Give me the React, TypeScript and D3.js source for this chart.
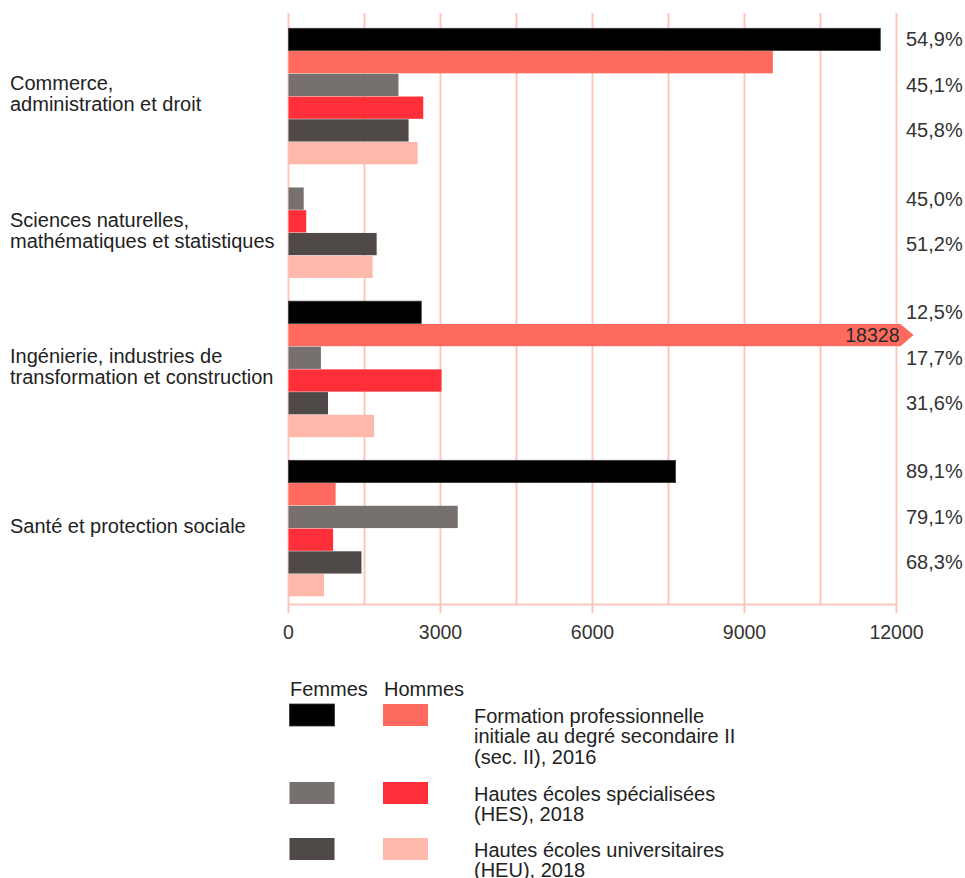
import React from 'react';
import * as d3 from 'd3';

// domaines d'études (libellés sur deux lignes)
const categories = [
  ['Commerce,', 'administration et droit'],
  ['Sciences naturelles,', 'mathématiques et statistiques'],
  ['Ingénierie, industries de', 'transformation et construction'],
  ['Santé et protection sociale'],
];

// effectifs, dans l'ordre des catégories (null = pas de donnée)
const femmesFP = [11680, null, 2620, 7640];
const hommesFP = [9560, null, 18328, 930];
const femmesHES = [2170, 300, 640, 3340];
const hommesHES = [2660, 350, 3020, 880];
const femmesHEU = [2370, 1740, 780, 1440];
const hommesHEU = [2550, 1660, 1690, 700];

// part des femmes
const partFP = ['54,9%', null, '12,5%', '89,1%'];
const partHES = ['45,1%', '45,0%', '17,7%', '79,1%'];
const partHEU = ['45,8%', '51,2%', '31,6%', '68,3%'];

const xTicks = [0, 3000, 6000, 9000, 12000];

const typeLabels = [
  ['Formation professionnelle', 'initiale au degré secondaire II', '(sec. II), 2016'],
  ['Hautes écoles spécialisées', '(HES), 2018'],
  ['Hautes écoles universitaires', '(HEU), 2018'],
];

const colF = ['#000000', '#76716e', '#4e4946'];
const colH = ['#ff6a5f', '#ff2f39', '#ffb9ab'];
const grid = '#ffc7bc';
const font = '"Liberation Sans", Arial, Helvetica, sans-serif';
const fs = 20;

const series = [
  { f: femmesFP, h: hommesFP, part: partFP },
  { f: femmesHES, h: hommesHES, part: partHES },
  { f: femmesHEU, h: hommesHEU, part: partHEU },
];

type Row = { id: string; cat: number; value: number; color: string; part?: string | null };

const App = () => {
  const width = 965;
  const height = 878;

  // build the list of rows: every existing bar, plus a spacer between groups
  const rows: Row[] = [];
  const groups: { cat: number; ids: string[] }[] = [];
  categories.forEach((_, ci) => {
    const ids: string[] = [];
    series.forEach((s, si) => {
      const f = s.f[ci];
      const h = s.h[ci];
      if (f != null) {
        rows.push({ id: `${ci}-${si}-f`, cat: ci, value: f, color: colF[si], part: s.part[ci] });
        ids.push(`${ci}-${si}-f`);
      }
      if (h != null) {
        rows.push({ id: `${ci}-${si}-h`, cat: ci, value: h, color: colH[si] });
        ids.push(`${ci}-${si}-h`);
      }
    });
    groups.push({ cat: ci, ids });
  });

  const domain: string[] = [];
  groups.forEach((g, i) => {
    domain.push(...g.ids);
    if (i < groups.length - 1) domain.push(`gap-${i}`);
  });

  const x = d3.scaleLinear().domain([0, 12000]).range([288.5, 896.5]);
  const y = d3.scaleBand<string>().domain(domain).range([28.3, 596.3]).paddingInner(0.02);

  const xMax = x.domain()[1];
  const gridVals = d3.range(0, xMax + 1, 1500);
  const axisY = 604.5;

  return (
    <svg
      width={width}
      height={height}
      style={{ position: 'absolute', left: 0, top: 0, background: '#fff' }}
      fontFamily={font}
    >
      {/* grille */}
      {gridVals.map(v => (
        <line
          key={v}
          x1={x(v)}
          x2={x(v)}
          y1={13}
          y2={xTicks.includes(v) ? 613 : axisY}
          stroke={grid}
          strokeWidth={2}
        />
      ))}
      <line x1={x(0)} x2={x(xMax)} y1={axisY} y2={axisY} stroke={grid} strokeWidth={2} />

      {/* barres */}
      {rows.map(r => {
        const y0 = y(r.id) as number;
        const bh = y.bandwidth();
        if (r.value > xMax) {
          const xe = x(xMax) + 4;
          const tip = xe + 13;
          return (
            <g key={r.id}>
              <path
                d={`M${x(0)},${y0}H${xe}L${tip},${y0 + bh / 2}L${xe},${y0 + bh}H${x(0)}Z`}
                fill={r.color}
              />
              <text
                x={xe - 1}
                y={y0 + bh / 2 + 7}
                textAnchor="end"
                fontSize={19.5}
                fill="#2a2a2a"
              >
                {r.value}
              </text>
            </g>
          );
        }
        return (
          <rect
            key={r.id}
            x={x(0)}
            y={y0}
            width={x(r.value) - x(0)}
            height={bh}
            fill={r.color}
            stroke={r.color === '#000000' ? '#3a3a3a' : 'none'}
            strokeWidth={0.8}
          />
        );
      })}

      {/* parts des femmes */}
      {rows
        .filter(r => r.part)
        .map(r => (
          <text
            key={`p-${r.id}`}
            x={906}
            y={(y(r.id) as number) + y.bandwidth() / 2 + 7}
            fontSize={fs}
            fill="#333"
          >
            {r.part}
          </text>
        ))}

      {/* libellés des catégories */}
      {groups.map(g => {
        const top = y(g.ids[0]) as number;
        const bottom = (y(g.ids[g.ids.length - 1]) as number) + y.bandwidth();
        const c = (top + bottom) / 2;
        const lines = categories[g.cat];
        const lh = 21;
        return (
          <text key={`c-${g.cat}`} x={10} fontSize={fs} fill="#222">
            {lines.map((l, i) => (
              <tspan key={i} x={10} y={c - ((lines.length - 1) * lh) / 2 + 4.5 + i * lh}>
                {l}
              </tspan>
            ))}
          </text>
        );
      })}

      {/* axe x */}
      {xTicks.map(t => (
        <text key={`t-${t}`} x={x(t)} y={639} textAnchor="middle" fontSize={19.5} fill="#333">
          {t}
        </text>
      ))}

      {/* légende */}
      <text x={290} y={695.5} fontSize={fs} fill="#222">Femmes</text>
      <text x={384} y={695.5} fontSize={fs} fill="#222">Hommes</text>
      {typeLabels.map((lines, i) => {
        const top = [704, 782, 838][i];
        return (
          <g key={`l-${i}`}>
            <rect x={289.5} y={top} width={45} height={22} fill={colF[i]} stroke={i === 0 ? '#333' : 'none'} strokeWidth={0.8} />
            <rect x={383} y={top} width={45} height={22} fill={colH[i]} />
            <text fontSize={fs} fill="#222">
              {lines.map((l, j) => (
                <tspan key={j} x={474} y={top + 18.5 + j * 20.5}>
                  {l}
                </tspan>
              ))}
            </text>
          </g>
        );
      })}
    </svg>
  );
};

export default App;
